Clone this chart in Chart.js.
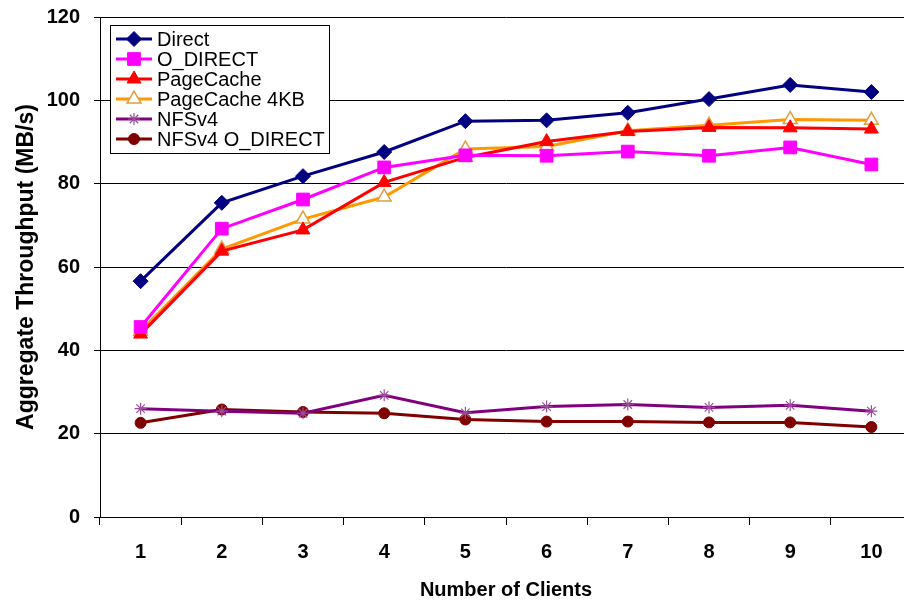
<!DOCTYPE html>
<html>
<head>
<meta charset="utf-8">
<script src="https://cdn.jsdelivr.net/npm/chart.js@4.4.1/dist/chart.umd.min.js"></script>
<style>
  html, body { margin: 0; padding: 0; background: #fff; overflow: hidden; }
  #wrap { width: 904px; height: 602px; overflow: hidden; }
</style>
</head>
<body>
<div id="wrap"><canvas id="chart" width="922" height="602"></canvas></div>
<script>
// data
const clients = ['1', '2', '3', '4', '5', '6', '7', '8', '9', '10'];
const direct = [56.6, 75.4, 81.8, 87.6, 95.0, 95.2, 97.0, 100.3, 103.7, 102.0];
const oDirect = [45.6, 69.2, 76.2, 83.9, 86.8, 86.7, 87.7, 86.7, 88.7, 84.6];
const pageCache = [43.9, 63.8, 68.9, 80.3, 86.3, 90.1, 92.5, 93.5, 93.4, 93.1];
const pageCache4k = [44.6, 64.3, 71.5, 76.8, 88.3, 88.9, 92.7, 94.0, 95.4, 95.2];
const nfsv4 = [26.0, 25.4, 24.9, 29.2, 25.0, 26.5, 27.0, 26.3, 26.8, 25.4];
const nfsv4ODirect = [22.6, 25.8, 25.2, 24.9, 23.4, 22.9, 22.9, 22.7, 22.7, 21.6];
const yTicks = [0, 20, 40, 60, 80, 100, 120];

const FONT = '"Liberation Sans", Arial, sans-serif';

function series(label, data, color, style, extra) {
  return Object.assign({
    label: label,
    data: data,
    borderColor: color,
    backgroundColor: color,
    pointBackgroundColor: color,
    pointBorderColor: color,
    borderWidth: 3,
    pointStyle: style,
    pointRadius: 7,
    pointBorderWidth: 1,
    tension: 0
  }, extra || {});
}

// legend drawn inside the plot, like the original box
const boxLegend = {
  id: 'boxLegend',
  afterDraw(chart) {
    const ctx = chart.ctx;
    const x0 = 110, y0 = 25, w = 219, h = 128;
    ctx.save();
    ctx.fillStyle = '#fff';
    ctx.fillRect(x0, y0, w, h);
    ctx.strokeStyle = '#000';
    ctx.lineWidth = 1;
    ctx.strokeRect(x0 + 0.5, y0 + 0.5, w, h);
    chart.data.datasets.forEach((ds, i) => {
      const y = 39 + i * 20;
      ctx.strokeStyle = ds.borderColor;
      ctx.lineWidth = ds.borderWidth;
      ctx.beginPath();
      ctx.moveTo(116, y);
      ctx.lineTo(152, y);
      ctx.stroke();
      ctx.fillStyle = ds.pointBackgroundColor;
      ctx.strokeStyle = ds.pointBorderColor;
      ctx.lineWidth = ds.pointBorderWidth;
      Chart.helpers.drawPoint(ctx, {
        pointStyle: ds.pointStyle, radius: ds.pointRadius, rotation: 0, borderWidth: ds.pointBorderWidth
      }, 134, y);
      ctx.fillStyle = '#000';
      ctx.font = '20px ' + FONT;
      ctx.textBaseline = 'middle';
      ctx.textAlign = 'left';
      ctx.fillText(ds.label, 157, y + 1);
    });
    ctx.restore();
  }
};

new Chart(document.getElementById('chart'), {
  type: 'line',
  data: {
    labels: clients,
    datasets: [
      series('Direct', direct, '#000080', 'rectRot', { pointRadius: 7.5 }),
      series('O_DIRECT', oDirect, '#FF00FF', 'rect', { pointRadius: 9 }),
      series('PageCache', pageCache, '#FF0000', 'triangle', { pointRadius: 8 }),
      series('PageCache 4KB', pageCache4k, '#FF9900', 'triangle', {
        pointRadius: 8, pointBackgroundColor: '#FFFFFF', pointBorderColor: '#E0A040', pointBorderWidth: 1.5
      }),
      series('NFSv4', nfsv4, '#800080', 'star', { pointRadius: 6, pointBorderWidth: 1.2, pointBorderColor: '#9A4E9A' }),
      series('NFSv4 O_DIRECT', nfsv4ODirect, '#800000', 'circle', { pointRadius: 5.5 })
    ]
  },
  options: {
    responsive: false,
    animation: false,
    layout: { padding: { top: 17, right: 0, left: 0, bottom: 0 } },
    plugins: { legend: { display: false }, tooltip: { enabled: false } },
    scales: {
      x: {
        offset: true,
        grid: { offset: true, drawOnChartArea: false, drawTicks: true, tickLength: 8, color: '#000', lineWidth: 1 },
        border: { color: '#000', width: 1 },
        ticks: { color: '#000', font: { family: FONT, size: 20, weight: 'bold' }, padding: 15 },
        title: { display: true, text: 'Number of Clients', color: '#000', font: { family: FONT, size: 20, weight: 'bold' }, padding: { top: 0, bottom: 0 } },
        afterFit(scale) {
          scale.height = 85;
          scale.paddingLeft = 0;
          scale.paddingRight = 0;
        }
      },
      y: {
        min: 0,
        max: 120,
        afterBuildTicks(scale) { scale.ticks = yTicks.map(v => ({ value: v })); },
        grid: { color: '#000', lineWidth: 1, tickLength: 6 },
        border: { color: '#000', width: 1 },
        ticks: { color: '#000', font: { family: FONT, size: 20, weight: 'bold' }, padding: 14 },
        title: { display: true, text: 'Aggregate Throughput (MB/s)', color: '#000', font: { family: FONT, size: 23, weight: 'bold' }, padding: { top: 13, bottom: 0 } },
        afterFit(scale) {
          scale.width = 100;
          scale.paddingTop = 0;
          scale.paddingBottom = 0;
        }
      }
    }
  },
  plugins: [boxLegend]
});
</script>
</body>
</html>
